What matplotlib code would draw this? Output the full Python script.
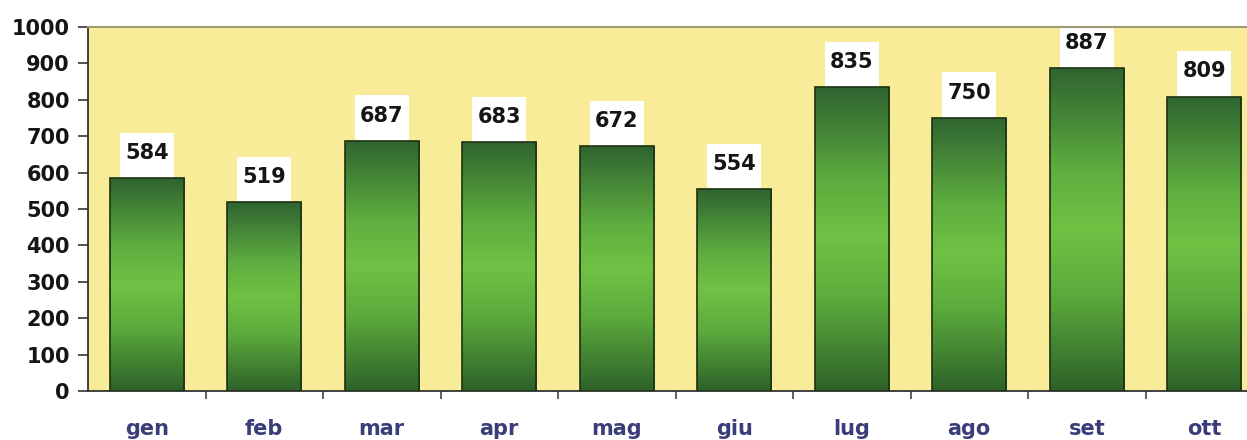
import numpy as np
import matplotlib.pyplot as plt
from matplotlib.colors import LinearSegmentedColormap
from matplotlib.patches import Rectangle

months = ['gen', 'feb', 'mar', 'apr', 'mag', 'giu', 'lug', 'ago', 'set', 'ott']
values = [584, 519, 687, 683, 672, 554, 835, 750, 887, 809]
yticks = [0, 100, 200, 300, 400, 500, 600, 700, 800, 900, 1000]

plt.rcParams['font.family'] = ['DejaVu Sans']

fig = plt.figure(figsize=(12.47, 4.4), dpi=100)
# plot area runs off the right edge like the reference
ax = fig.add_axes([88/1247, 49/440, 1175/1247, 364/440])
ax.set_facecolor('#f8ec98')

# vertical gradient: dark top, bright middle, dark bottom
grad_cmap = LinearSegmentedColormap.from_list(
    'bar', [(0.0, '#2f6430'), (0.32, '#5fae3f'), (0.5, '#6fc244'),
            (0.7, '#5cab3c'), (1.0, '#2d6229')])
grad = np.linspace(0, 1, 256).reshape(-1, 1)

width = 0.63
x = np.arange(len(months))
bars = ax.bar(x, values, width=width, color='none', edgecolor='#1d3112',
              linewidth=1.2, zorder=3)
for b, v in zip(bars, values):
    x0 = b.get_x()
    im = ax.imshow(grad, cmap=grad_cmap, aspect='auto', origin='upper',
                   extent=[x0, x0 + width, 0, v], zorder=2)
    im.set_clip_path(b)

    # white label box above each bar
    box_w, box_h = 0.46, 125
    ax.add_patch(Rectangle((b.get_x() + width/2 - box_w/2, v), box_w, box_h,
                           facecolor='white', edgecolor='none',
                           zorder=1.5, clip_on=False))
    ax.text(b.get_x() + width/2, v + box_h*0.55, str(v), ha='center',
            va='center', fontsize=15, fontweight='bold', color='#151515',
            zorder=4, clip_on=False)

ax.set_xlim(-0.5, len(months) - 0.5)
ax.set_ylim(0, 1000)
ax.set_yticks(yticks)
ax.set_yticklabels([str(t) for t in yticks], fontsize=15, fontweight='bold',
                   color='#151515')
ax.tick_params(axis='y', length=7, width=1.2, direction='out', color='#333333', pad=6)

ax.set_xticks(x)
ax.set_xticklabels(months, fontsize=15, fontweight='bold', color='#3a3d78')
ax.set_xticks(np.arange(0.5, len(months) - 0.5, 1), minor=True)
ax.tick_params(axis='x', which='major', length=0, pad=20)
ax.tick_params(axis='x', which='minor', length=6, width=1.2, color='#444444')

for s in ['left', 'bottom']:
    ax.spines[s].set_color('#333333')
    ax.spines[s].set_linewidth(1.3)
ax.spines['top'].set_color('#a09a70')
ax.spines['top'].set_linewidth(1.5)
ax.spines['right'].set_visible(False)

fig.savefig('out.png', dpi=100)
